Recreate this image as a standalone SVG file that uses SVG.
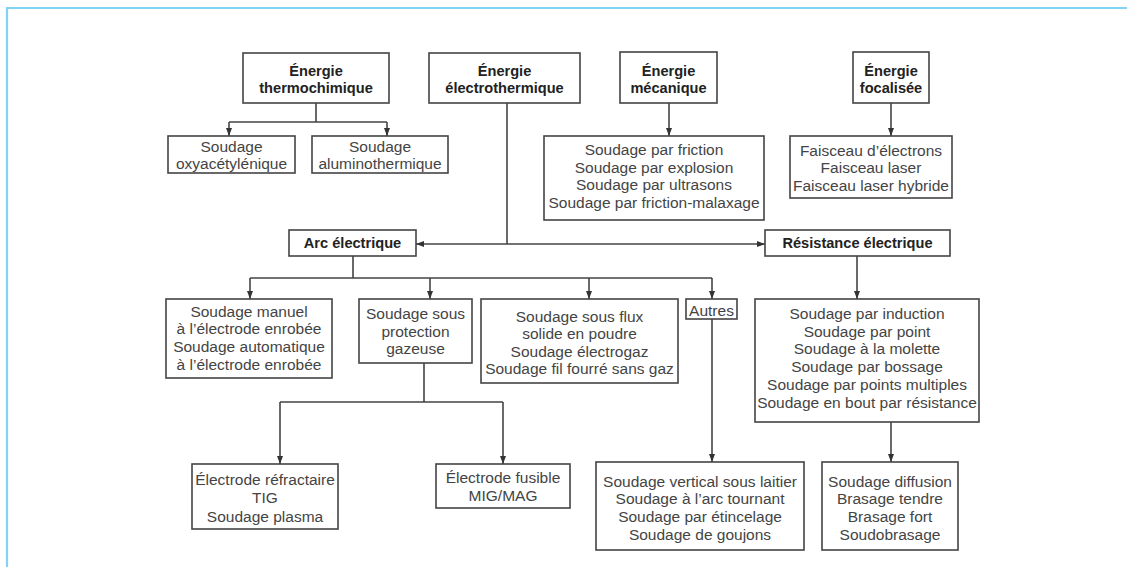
<svg xmlns="http://www.w3.org/2000/svg" width="1127" height="567" viewBox="0 0 1127 567">
<style>
.bx{fill:#fff;stroke:#444;stroke-width:1.6}
.t{font-family:"Liberation Sans",Arial,sans-serif;font-size:15.5px;fill:#444;text-anchor:middle}
.h{font-family:"Liberation Sans",Arial,sans-serif;font-size:14.6px;font-weight:bold;fill:#222;text-anchor:middle}
.c{fill:none;stroke:#444;stroke-width:1.6}
.a{fill:none;stroke:#444;stroke-width:1.6;marker-end:url(#ah)}
</style>
<defs>
<marker id="ah" markerUnits="userSpaceOnUse" markerWidth="8" markerHeight="8" viewBox="0 0 8 8" refX="8" refY="4" orient="auto">
<path d="M0,1 L8,4 L0,7 Z" fill="#333"/>
</marker>
</defs>
<rect width="1127" height="567" fill="#fff"/>
<path d="M7,567 V8 H1127" fill="none" stroke="#82d2f2" stroke-width="2.2"/>
<g id="connectors">
<path class="c" d="M316,103 V122 M229,122 H387"/>
<path class="a" d="M229,122 V136"/>
<path class="a" d="M387,122 V136"/>
<path class="c" d="M507,103 V244"/>
<path class="a" d="M507,244 H416"/>
<path class="a" d="M507,244 H765"/>
<path class="a" d="M669,103 V136"/>
<path class="a" d="M891,103 V136"/>
<path class="c" d="M353,256 V278 M250,278 H712"/>
<path class="a" d="M250,278 V299"/>
<path class="a" d="M430,278 V299"/>
<path class="a" d="M589,278 V299"/>
<path class="a" d="M712,278 V299"/>
<path class="a" d="M857,256 V299"/>
<path class="c" d="M424,363 V402 M280,402 H503"/>
<path class="a" d="M280,402 V464"/>
<path class="a" d="M503,402 V464"/>
<path class="a" d="M712,319 V462"/>
<path class="a" d="M891,422 V462"/>
</g>
<g id="thermochimique"><rect class="bx" x="243" y="53" width="146" height="50"/><text class="h" x="316" y="76">Énergie</text><text class="h" x="316" y="93">thermochimique</text></g>
<g id="electrothermique"><rect class="bx" x="429" y="53" width="151" height="50"/><text class="h" x="504.5" y="76">Énergie</text><text class="h" x="504.5" y="93">électrothermique</text></g>
<g id="mecanique"><rect class="bx" x="620" y="52" width="97" height="51"/><text class="h" x="668.5" y="76">Énergie</text><text class="h" x="668.5" y="93">mécanique</text></g>
<g id="focalisee"><rect class="bx" x="853" y="52" width="76" height="51"/><text class="h" x="891" y="76">Énergie</text><text class="h" x="891" y="93">focalisée</text></g>
<g id="oxy"><rect class="bx" x="168" y="136" width="127" height="37"/><text class="t" x="231.5" y="152">Soudage</text><text class="t" x="231.5" y="169">oxyacétylénique</text></g>
<g id="alu"><rect class="bx" x="312" y="136" width="136" height="37"/><text class="t" x="380" y="152">Soudage</text><text class="t" x="380" y="169">aluminothermique</text></g>
<g id="meca-list"><rect class="bx" x="544" y="136" width="220" height="84"/><text class="t" x="654" y="155">Soudage par friction</text><text class="t" x="654" y="173">Soudage par explosion</text><text class="t" x="654" y="190">Soudage par ultrasons</text><text class="t" x="654" y="208">Soudage par friction-malaxage</text></g>
<g id="faisceau"><rect class="bx" x="790" y="136" width="162" height="62"/><text class="t" x="871" y="156">Faisceau d’électrons</text><text class="t" x="871" y="173">Faisceau laser</text><text class="t" x="871" y="191">Faisceau laser hybride</text></g>
<g id="arc"><rect class="bx" x="289" y="230" width="127" height="26"/><text class="h" x="352.5" y="248">Arc électrique</text></g>
<g id="resistance"><rect class="bx" x="765" y="230" width="185" height="26"/><text class="h" x="857.5" y="248">Résistance électrique</text></g>
<g id="manuel"><rect class="bx" x="166" y="299" width="166" height="79"/><text class="t" x="249" y="317">Soudage manuel</text><text class="t" x="249" y="334">à l’électrode enrobée</text><text class="t" x="249" y="352">Soudage automatique</text><text class="t" x="249" y="370">à l’électrode enrobée</text></g>
<g id="gazeuse"><rect class="bx" x="359" y="299" width="113" height="64"/><text class="t" x="415.5" y="319">Soudage sous</text><text class="t" x="415.5" y="337">protection</text><text class="t" x="415.5" y="354">gazeuse</text></g>
<g id="flux"><rect class="bx" x="481" y="299" width="197" height="84"/><text class="t" x="579.5" y="322">Soudage sous flux</text><text class="t" x="579.5" y="339">solide en poudre</text><text class="t" x="579.5" y="357">Soudage électrogaz</text><text class="t" x="579.5" y="374">Soudage fil fourré sans gaz</text></g>
<g id="autres"><rect class="bx" x="686" y="299" width="51" height="20"/><text class="t" x="711.5" y="316">Autres</text></g>
<g id="resist-list"><rect class="bx" x="755" y="299" width="224" height="123"/><text class="t" x="867" y="319">Soudage par induction</text><text class="t" x="867" y="337">Soudage par point</text><text class="t" x="867" y="354">Soudage à la molette</text><text class="t" x="867" y="372">Soudage par bossage</text><text class="t" x="867" y="390">Soudage par points multiples</text><text class="t" x="867" y="408">Soudage en bout par résistance</text></g>
<g id="refractaire"><rect class="bx" x="192" y="464" width="146" height="65"/><text class="t" x="265" y="485">Électrode réfractaire</text><text class="t" x="265" y="503">TIG</text><text class="t" x="265" y="522">Soudage plasma</text></g>
<g id="fusible"><rect class="bx" x="436" y="464" width="134" height="44"/><text class="t" x="503" y="483">Électrode fusible</text><text class="t" x="503" y="501">MIG/MAG</text></g>
<g id="autres-list"><rect class="bx" x="596" y="462" width="208" height="88"/><text class="t" x="700" y="487">Soudage vertical sous laitier</text><text class="t" x="700" y="504">Soudage à l’arc tournant</text><text class="t" x="700" y="522">Soudage par étincelage</text><text class="t" x="700" y="540">Soudage de goujons</text></g>
<g id="brasage"><rect class="bx" x="822" y="462" width="136" height="88"/><text class="t" x="890" y="487">Soudage diffusion</text><text class="t" x="890" y="504">Brasage tendre</text><text class="t" x="890" y="522">Brasage fort</text><text class="t" x="890" y="540">Soudobrasage</text></g>
</svg>
